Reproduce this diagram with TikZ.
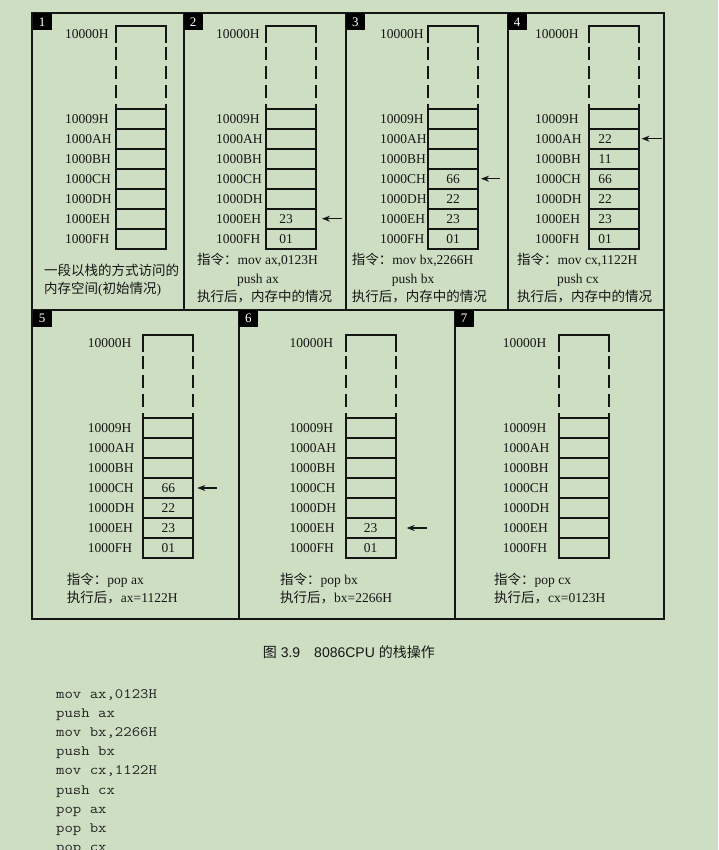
\documentclass[tikz,border=0pt]{standalone}
\usepackage{fontspec}
\setmainfont{Liberation Serif}
\newfontfamily\cjk{Noto Sans CJK SC}
\newfontfamily\sansf{Liberation Sans}
\newfontfamily\monof{Latin Modern Mono}[FakeStretch=1.14]
\usetikzlibrary{arrows.meta}
\definecolor{bg}{RGB}{205,222,194}
\definecolor{ink}{RGB}{22,22,22}
\definecolor{codeink}{RGB}{35,35,35}

% #1 id, #2 box left x, #3 box top y, #4 label x
\newcommand\memstack[4]{%
  \draw[boxline] (#2,#3+17) -- (#2,#3) -- (#2+50,#3) -- (#2+50,#3+17);
  \draw[boxline,dash pattern=on 13pt off 6pt] (#2,#3+21) -- (#2,#3+72);
  \draw[boxline,dash pattern=on 13pt off 6pt] (#2+50,#3+21) -- (#2+50,#3+72);
  \draw[boxline] (#2,#3+78) -- (#2,#3+83);
  \draw[boxline] (#2+50,#3+78) -- (#2+50,#3+83);
  \node[addr] (#1l0) at (#4,#3+12.5) {10000H};
  \foreach \ad [count=\i from 0] in {9,A,B,C,D,E,F} {
    \node[cell] (#1c\ad) at (#2+25,#3+93+20*\i) {};
    \node[addr] (#1l\ad) at (#4,#3+97.5+20*\i) {1000\ad H};
  }%
}

\begin{document}
\begin{tikzpicture}[x=1pt,y=-1pt,
  boxline/.style={line width=1.9pt,draw=ink},
  cell/.style={draw=ink,line width=1.9pt,rectangle,minimum width=50pt,minimum height=20pt,inner sep=0pt,outer sep=0pt},
  addr/.style={anchor=base west,inner sep=0pt,text=ink,font=\fontsize{13.5}{15}\selectfont},
  val/.style={inner sep=0pt,text=ink,font=\fontsize{13.5}{15}\selectfont},
  txt/.style={anchor=base west,inner sep=0pt,text=ink,font=\fontsize{13.5}{15}\selectfont},
  frame/.style={line width=2pt,draw=ink},
  numbox/.style={fill=black,text=white,anchor=north west,minimum width=19pt,minimum height=17pt,inner sep=0pt,font=\fontsize{13}{14}\selectfont},
  ptr/.style={line width=1.2pt,draw=ink,-{Stealth[length=8pt,width=6pt]}},
  code/.style={anchor=base west,inner sep=0pt,text=codeink,font=\monof\fontsize{14.3}{16}\selectfont},
  capt/.style={anchor=west,inner sep=0pt,text=ink,font=\sansf\fontsize{14}{16}\selectfont}]

\clip (0,0) rectangle (718,850);
\fill[bg] (0,0) rectangle (718,850);

% frames
\draw[frame] (32.3,13.3) rectangle (663.5,618.5);
\draw[frame] (32.3,310) -- (663.5,310);
\draw[frame] (183.5,13.3) -- (183.5,310);
\draw[frame] (345.7,13.3) -- (345.7,310);
\draw[frame] (507.5,13.3) -- (507.5,310);
\draw[frame] (238.7,310) -- (238.7,618.5);
\draw[frame] (454.5,310) -- (454.5,618.5);

% panel numbers
\node[numbox] (n1) at (32.3,13.3) {1};
\node[numbox] (n2) at (183.5,13.3) {2};
\node[numbox] (n3) at (345.7,13.3) {3};
\node[numbox] (n4) at (507.5,13.3) {4};
\node[numbox] (n5) at (32.3,310) {5};
\node[numbox] (n6) at (238.7,310) {6};
\node[numbox] (n7) at (454.5,310) {7};

% stacks
\memstack{p1}{116}{25.7}{65}
\memstack{p2}{266}{25.7}{216}
\memstack{p3}{428}{25.7}{380}
\memstack{p4}{589}{25.7}{535}
\memstack{p5}{143.3}{335}{87.7}
\memstack{p6}{345.7}{335}{289.3}
\memstack{p7}{559}{335}{502.7}

% values
\node[val] (p2vE) at ([xshift=-5pt]p2cE.center) {23};
\node[val] (p2vF) at ([xshift=-5pt]p2cF.center) {01};

\node[val] (p3vC) at (p3cC.center) {66};
\node[val] (p3vD) at (p3cD.center) {22};
\node[val] (p3vE) at (p3cE.center) {23};
\node[val] (p3vF) at (p3cF.center) {01};

\node[val] (p4vA) at ([xshift=-9pt]p4cA.center) {22};
\node[val] (p4vB) at ([xshift=-9pt]p4cB.center) {11};
\node[val] (p4vC) at ([xshift=-9pt]p4cC.center) {66};
\node[val] (p4vD) at ([xshift=-9pt]p4cD.center) {22};
\node[val] (p4vE) at ([xshift=-9pt]p4cE.center) {23};
\node[val] (p4vF) at ([xshift=-9pt]p4cF.center) {01};

\node[val] (p5vC) at (p5cC.center) {66};
\node[val] (p5vD) at (p5cD.center) {22};
\node[val] (p5vE) at (p5cE.center) {23};
\node[val] (p5vF) at (p5cF.center) {01};

\node[val] (p6vE) at (p6cE.center) {23};
\node[val] (p6vF) at (p6cF.center) {01};

% pointers
\coordinate (p2t) at ([xshift=26pt]p2cE.east);
\draw[ptr,shorten >=6pt] (p2t) -- (p2cE.east);
\coordinate (p3t) at ([xshift=22pt]p3cC.east);
\draw[ptr,shorten >=3pt] (p3t) -- (p3cC.east);
\coordinate (p4t) at ([xshift=23pt]p4cA.east);
\draw[ptr,shorten >=2.5pt] (p4t) -- (p4cA.east);
\coordinate (p5t) at ([xshift=24pt]p5cC.east);
\draw[ptr,shorten >=4pt] (p5t) -- (p5cC.east);
\coordinate (p6t) at ([xshift=31pt]p6cE.east);
\draw[ptr,shorten >=11pt] (p6t) -- (p6cE.east);

% panel texts
\node[txt] (t1a) at (44,275) {{\cjk 一段以栈的方式访问的}};
\node[txt] (t1b) at (44,293) {{\cjk 内存空间}({\cjk 初始情况})};

\node[txt] (t2a) at (197,264) {{\cjk 指令：}mov ax,0123H};
\node[txt] (t2b) at (237,283) {push ax};
\node[txt] (t2c) at (197,301) {{\cjk 执行后，内存中的情况}};

\node[txt] (t3a) at (351.7,264) {{\cjk 指令：}mov bx,2266H};
\node[txt] (t3b) at (391.7,283) {push bx};
\node[txt] (t3c) at (351.7,301) {{\cjk 执行后，内存中的情况}};

\node[txt] (t4a) at (517,264) {{\cjk 指令：}mov cx,1122H};
\node[txt] (t4b) at (557,283) {push cx};
\node[txt] (t4c) at (517,301) {{\cjk 执行后，内存中的情况}};

\node[txt] (t5a) at (66.7,584) {{\cjk 指令：}pop ax};
\node[txt] (t5b) at (66.7,602) {{\cjk 执行后，}ax=1122H};

\node[txt] (t6a) at (280,584) {{\cjk 指令：}pop bx};
\node[txt] (t6b) at (280,602) {{\cjk 执行后，}bx=2266H};

\node[txt] (t7a) at (494,584) {{\cjk 指令：}pop cx};
\node[txt] (t7b) at (494,602) {{\cjk 执行后，}cx=0123H};

% caption
\node[capt] (cap) at (262.7,652) {{\cjk 图} 3.9\hspace{14pt}8086CPU {\cjk 的栈操作}};

% code
\node[code] (c1) at (56,698) {mov ax,0123H};
\node[code] (c2) at (56,717.2) {push ax};
\node[code] (c3) at (56,736.4) {mov bx,2266H};
\node[code] (c4) at (56,755.6) {push bx};
\node[code] (c5) at (56,774.8) {mov cx,1122H};
\node[code] (c6) at (56,794) {push cx};
\node[code] (c7) at (56,813.2) {pop ax};
\node[code] (c8) at (56,832.4) {pop bx};
\node[code] (c9) at (56,851.6) {pop cx};
\end{tikzpicture}
\end{document}
